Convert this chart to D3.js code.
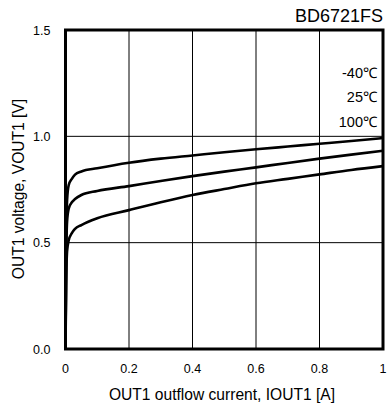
<!DOCTYPE html>
<html><head><meta charset="utf-8">
<script src="https://cdn.jsdelivr.net/npm/d3@7"></script>
<style>body{margin:0;background:#fff}svg{display:block}text{font-family:"Liberation Sans",Arial,sans-serif;fill:#000}</style>
</head><body>
<svg id="c" width="387" height="408"></svg>
<script>
const current = [0, 0.002, 0.005, 0.01, 0.02, 0.03, 0.05, 0.1, 0.2, 0.3, 0.4, 0.5, 0.6, 0.7, 0.8, 0.9, 1.0];
const vM40 = [0, 0.45, 0.7, 0.77, 0.80, 0.82, 0.835, 0.85, 0.876, 0.895, 0.91, 0.925, 0.939, 0.952, 0.965, 0.978, 0.992];
const v25 = [0, 0.4, 0.6, 0.66, 0.69, 0.705, 0.724, 0.743, 0.766, 0.79, 0.813, 0.834, 0.854, 0.875, 0.895, 0.914, 0.932];
const v100 = [0, 0.3, 0.46, 0.51, 0.545, 0.565, 0.583, 0.615, 0.653, 0.69, 0.724, 0.752, 0.779, 0.80, 0.821, 0.842, 0.86];
const legendLabels = ["-40℃", "25℃", "100℃"];
const xTicks = [0, 0.2, 0.4, 0.6, 0.8, 1];
const xTickLabels = ["0", "0.2", "0.4", "0.6", "0.8", "1"];
const yTicks = [0, 0.5, 1.0, 1.5];
const yTickLabels = ["0.0", "0.5", "1.0", "1.5"];
const title = "BD6721FS";
const xTitle = "OUT1 outflow current, IOUT1 [A]";
const yTitle = "OUT1 voltage, VOUT1 [V]";

const svg = d3.select("#c");
const L = 65.5, R = 383, T = 30, B = 349;
const x = d3.scaleLinear().domain([0, 1]).range([L, R]);
const y = d3.scaleLinear().domain([0, 1.5]).range([B, T]);

// grid
svg.append("g").selectAll("line").data(xTicks.slice(1, -1)).join("line")
  .attr("x1", d => x(d)).attr("x2", d => x(d)).attr("y1", T).attr("y2", B)
  .attr("stroke", "#000").attr("stroke-width", 1);
svg.append("g").selectAll("line").data(yTicks.slice(1, -1)).join("line")
  .attr("x1", L).attr("x2", R).attr("y1", d => y(d)).attr("y2", d => y(d))
  .attr("stroke", "#000").attr("stroke-width", 1);

// curves
const line = d3.line().x((d, i) => x(current[i])).y(d => y(d)).curve(d3.curveMonotoneX);
[vM40, v25, v100].forEach(s => {
  svg.append("path").attr("d", line(s)).attr("fill", "none")
    .attr("stroke", "#000").attr("stroke-width", 2.6).attr("stroke-linejoin", "round");
});

// frame
svg.append("rect").attr("x", L).attr("y", T).attr("width", R - L).attr("height", B - T)
  .attr("fill", "none").attr("stroke", "#000").attr("stroke-width", 3);

// tick labels
svg.append("g").selectAll("text").data(xTicks).join("text")
  .attr("x", d => x(d)).attr("y", 373).attr("text-anchor", "middle")
  .attr("font-size", 12.5).text((d, i) => xTickLabels[i]);
svg.append("g").selectAll("text").data(yTicks).join("text")
  .attr("x", 50.5).attr("y", d => y(d) + 4.5).attr("text-anchor", "end")
  .attr("font-size", 12.5).text((d, i) => yTickLabels[i]);

// titles
svg.append("text").attr("x", 222).attr("y", 400).attr("text-anchor", "middle")
  .attr("font-size", 15.6).text(xTitle);
svg.append("text").attr("transform", "translate(24,189) rotate(-90)").attr("text-anchor", "middle")
  .attr("font-size", 15.6).text(yTitle);
svg.append("text").attr("x", 383).attr("y", 22).attr("text-anchor", "end")
  .attr("font-size", 18).text(title);

// legend
svg.append("g").selectAll("text").data(legendLabels).join("text")
  .attr("x", 377).attr("y", (d, i) => 77.5 + i * 24.5).attr("text-anchor", "end")
  .attr("font-size", 14.5).text(d => d);
</script>
</body></html>
